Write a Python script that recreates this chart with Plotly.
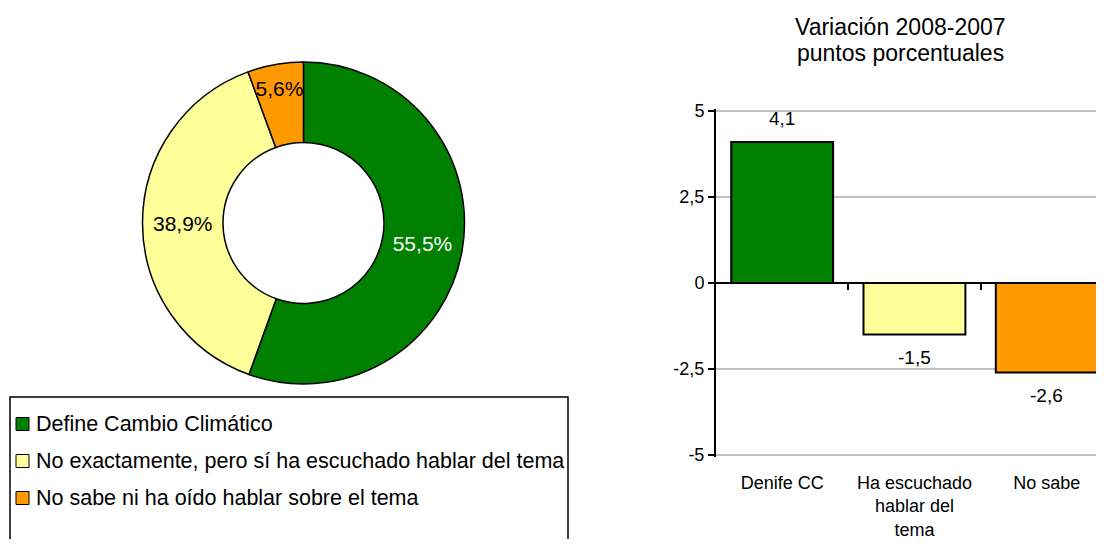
import plotly.graph_objects as go

# ---------------- data ----------------
pie_labels = ["Define Cambio Climático",
              "No exactamente, pero sí ha escuchado hablar del tema",
              "No sabe ni ha oído hablar sobre el tema"]
pie_values = [55.5, 38.9, 5.6]
colors = ["#008000", "#FFFF99", "#FF9900"]
pie_text_colors = ["white", "black", "black"]

bar_categories = ["Denife CC", "Ha escuchado<br>hablar del<br>tema", "No sabe"]
bar_values = [4.1, -1.5, -2.6]
y_ticks = [-5, -2.5, 0, 2.5, 5]
title_lines = ["Variación 2008-2007", "puntos porcentuales"]

# ---------------- helpers ----------------
W, H = 1104, 547
FONT = "Liberation Sans, Arial, sans-serif"


def px(x):
    return x / W


def py(y):
    return 1 - y / H


def fmt(v, suffix=""):
    s = ("%g" % v) if float(v).is_integer() else ("%.1f" % v)
    return s.replace(".", ",") + suffix


fig = go.Figure()

# ---------------- donut ----------------
cx, cy, r = 303.5, 223, 161
fig.add_trace(go.Pie(
    labels=pie_labels, values=pie_values, hole=0.5, sort=False,
    direction="clockwise", rotation=0,
    marker=dict(colors=colors, line=dict(color="black", width=1.5)),
    text=[fmt(v, "%") for v in pie_values], textinfo="text",
    textposition="inside", insidetextorientation="horizontal",
    insidetextfont=dict(family=FONT, size=21, color=pie_text_colors),
    domain=dict(x=[px(cx - r), px(cx + r)], y=[py(cy + r), py(cy - r)]),
    showlegend=False, hoverinfo="label+percent",
))

# ---------------- bars ----------------
xs = list(range(len(bar_values)))
fig.add_trace(go.Bar(
    x=xs, y=bar_values, width=0.77,
    marker=dict(color=colors, line=dict(color="black", width=2)),
    showlegend=False, xaxis="x", yaxis="y",
))
# invisible companion trace so the category-label axis is drawn
fig.add_trace(go.Scatter(
    x=xs, y=bar_values, xaxis="x2", yaxis="y", mode="markers",
    marker=dict(opacity=0), hoverinfo="skip", showlegend=False,
))

x_left, step = 716, 132.3
x_range = [-0.5, -0.5 + (W - x_left) / step]
ppu = (455 - 111) / 10.0          # pixels per y unit
pad = 0.05
y_top = 111 - pad * ppu
y_bot = 455 + pad * ppu
y_zero_px = 283

annotations = []
for xi, v in zip(xs, bar_values):
    annotations.append(dict(
        x=xi, y=v, xref="x", yref="y", text=fmt(v), showarrow=False,
        yshift=23 if v >= 0 else -23, yanchor="middle",
        font=dict(family=FONT, size=19, color="black")))

for line, ly in zip(title_lines, [27, 53]):
    annotations.append(dict(
        x=px(900), y=py(ly), xref="paper", yref="paper", text=line,
        showarrow=False, xanchor="center", yanchor="middle",
        font=dict(family=FONT, size=23, color="black")))

# ---------------- legend (manual box) ----------------
shapes = [dict(type="rect", xref="paper", yref="paper",
               x0=px(10), x1=px(568), y0=py(570), y1=py(397),
               line=dict(color="black", width=1.5), fillcolor="rgba(0,0,0,0)")]
item_y = [424, 461, 498]
for lab, col, iy in zip(pie_labels, colors, item_y):
    shapes.append(dict(type="rect", xref="paper", yref="paper",
                       x0=px(16), x1=px(29), y0=py(iy + 6.5), y1=py(iy - 6.5),
                       line=dict(color="black", width=1), fillcolor=col))
    annotations.append(dict(x=px(34), y=py(iy), xref="paper", yref="paper",
                            text=lab, showarrow=False, xanchor="left",
                            yanchor="middle",
                            font=dict(family=FONT, size=21.5, color="black")))

fig.update_layout(
    autosize=True, margin=dict(l=0, r=0, t=0, b=0, autoexpand=False),
    paper_bgcolor="white", plot_bgcolor="white",
    font=dict(family=FONT, color="black"),
    # bar axis: sits on the zero line, ticks between categories
    xaxis=dict(domain=[px(x_left), 1], range=x_range, anchor="free",
               position=py(y_zero_px), automargin=False,
               tickvals=[i + 0.5 for i in xs[:-1]], ticks="outside",
               ticklen=6, tickwidth=2, tickcolor="black",
               showticklabels=False, showline=False, showgrid=False,
               zeroline=False, fixedrange=True),
    # category labels at the bottom
    xaxis2=dict(overlaying="x", anchor="y", range=x_range, side="bottom",
                automargin=False,
                tickvals=xs, ticktext=bar_categories, ticks="",
                showline=False, showgrid=False, zeroline=False,
                ticklabelstandoff=13,
                tickfont=dict(family=FONT, size=18, color="black"),
                fixedrange=True),
    yaxis=dict(domain=[py(y_bot), py(y_top)], automargin=False,
               range=[y_ticks[0] - pad, y_ticks[-1] + pad],
               tickvals=y_ticks, ticktext=[fmt(t) for t in y_ticks],
               showgrid=True, gridcolor="#C0C0C0", gridwidth=2,
               zeroline=True, zerolinecolor="black", zerolinewidth=2,
               showline=True, linecolor="black", linewidth=2,
               ticks="outside", ticklen=6, tickwidth=2, tickcolor="black",
               tickfont=dict(family=FONT, size=18, color="black"),
               fixedrange=True),
    uniformtext=dict(minsize=21, mode="show"),
    annotations=annotations, shapes=shapes,
)

fig.write_html("out.html", config={"displayModeBar": False},
               default_width="1104px",
               default_height="547px; margin:-8px")
